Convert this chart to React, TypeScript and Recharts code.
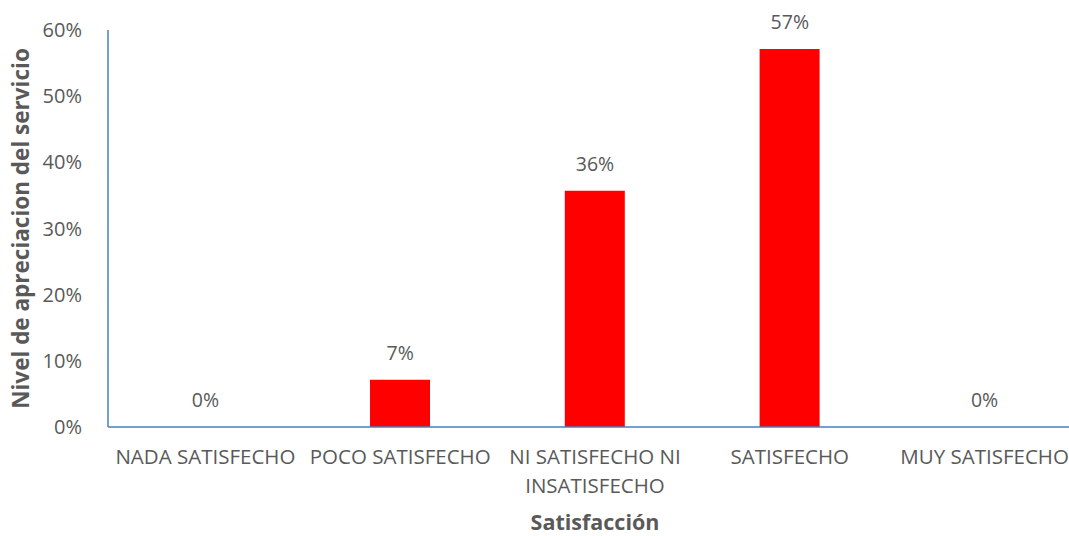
import React from 'react';
import { ComposedChart, Bar, Line, XAxis, YAxis, LabelList, Text } from 'recharts';

const categories = [
  'NADA SATISFECHO',
  'POCO SATISFECHO',
  'NI SATISFECHO NI INSATISFECHO',
  'SATISFECHO',
  'MUY SATISFECHO',
];
const shares = [0, 0.0714, 0.3571, 0.5714, 0];
const yTicks = [0, 0.1, 0.2, 0.3, 0.4, 0.5, 0.6];

const data = categories.map((name, i) => ({ name, value: shares[i] }));

const FONT = '"Open Sans", sans-serif';
const GREY = '#595959';
const AXIS = '#4a7ebb';

const pct = (v: number) => `${Math.round(v * 100)}%`;

const CategoryTick = (props: any) => {
  const { x, y, payload } = props;
  return (
    <Text
      x={x}
      y={y + 14}
      width={192}
      textAnchor="middle"
      verticalAnchor="start"
      lineHeight={29}
      fill={GREY}
      fontSize={20.5}
      fontFamily={FONT}
    >
      {payload.value}
    </Text>
  );
};

export default function App() {
  return (
    <div
      style={{
        position: 'absolute',
        top: 0,
        left: 0,
        width: 1069,
        height: 536,
        overflow: 'hidden',
        background: '#fff',
      }}
    >
      <ComposedChart
        width={1069}
        height={536}
        data={data}
        margin={{ top: 30, right: -13, bottom: 0, left: 0 }}
        barCategoryGap="34.5%"
        style={{ overflow: 'visible' }}
      >
        <XAxis
          dataKey="name"
          height={109}
          axisLine={{ stroke: AXIS, strokeWidth: 1.5 }}
          tickLine={false}
          tick={<CategoryTick />}
          interval={0}
          label={{
            value: 'Satisfacción',
            position: 'insideBottom',
            offset: 6,
            fill: GREY,
            fontSize: 21.5,
            fontWeight: 'bold',
            fontFamily: FONT,
          }}
        />
        <YAxis
          width={108}
          domain={[0, 0.6]}
          ticks={yTicks}
          tickFormatter={pct}
          axisLine={{ stroke: AXIS, strokeWidth: 1.5 }}
          tickLine={false}
          tickMargin={20}
          tick={{ fill: GREY, fontSize: 20, fontFamily: FONT }}
          label={{
            value: 'Nivel de apreciacion del servicio',
            angle: -90,
            position: 'insideLeft',
            offset: 21,
            style: { textAnchor: 'middle' },
            fill: GREY,
            fontSize: 22.5,
            fontWeight: 'bold',
            fontFamily: FONT,
          }}
        />
        <Bar dataKey="value" fill="#ff0000" isAnimationActive={false} />
        <Line
          dataKey="value"
          stroke="none"
          dot={false}
          activeDot={false}
          legendType="none"
          isAnimationActive={false}
        >
          <LabelList
            dataKey="value"
            position="top"
            offset={20}
            formatter={(v: any) => pct(Number(v))}
            fill={GREY}
            fontSize={19.5}
            fontFamily={FONT}
          />
        </Line>
      </ComposedChart>
    </div>
  );
}
